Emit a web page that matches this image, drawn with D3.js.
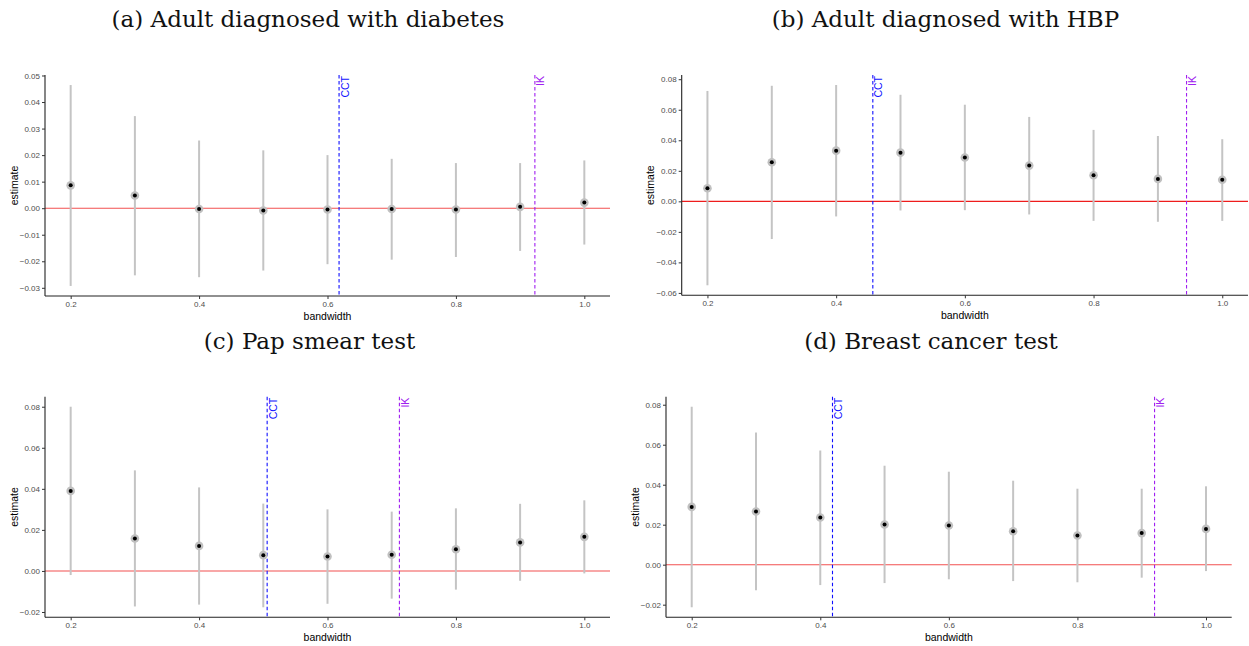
<!DOCTYPE html>
<html><head><meta charset="utf-8">
<script src="https://cdn.jsdelivr.net/npm/d3@7"></script>
<style>body{margin:0;background:#fff;} svg{display:block;}</style>
</head><body>
<svg id="c" width="1249" height="646"></svg>
<script>
// ---- data ----
const bandwidth = [0.2, 0.3, 0.4, 0.5, 0.6, 0.7, 0.8, 0.9, 1.0];

const titles = ["(a) Adult diagnosed with diabetes", "(b) Adult diagnosed with HBP", "(c) Pap smear test", "(d) Breast cancer test"];

const estA = [0.0086, 0.0048, -0.0003, -0.0009, -0.0005, -0.0003, -0.0005, 0.0005, 0.0021];
const loA  = [-0.0293, -0.0253, -0.0260, -0.0235, -0.0211, -0.0194, -0.0184, -0.0161, -0.0137];
const hiA  = [0.0464, 0.0347, 0.0255, 0.0218, 0.0200, 0.0186, 0.0170, 0.0170, 0.0180];

const estB = [0.0086, 0.0256, 0.0332, 0.0319, 0.0287, 0.0234, 0.0171, 0.0147, 0.0141];
const loB  = [-0.0550, -0.0247, -0.0099, -0.0060, -0.0058, -0.0086, -0.0128, -0.0134, -0.0128];
const hiB  = [0.0723, 0.0757, 0.0762, 0.0698, 0.0633, 0.0553, 0.0468, 0.0428, 0.0407];

const estC = [0.0390, 0.0158, 0.0122, 0.0077, 0.0070, 0.0079, 0.0106, 0.0139, 0.0166];
const loC  = [-0.0020, -0.0173, -0.0164, -0.0177, -0.0160, -0.0135, -0.0091, -0.0048, -0.0012];
const hiC  = [0.0800, 0.0490, 0.0407, 0.0328, 0.0300, 0.0289, 0.0305, 0.0327, 0.0344];

const estD = [0.0289, 0.0266, 0.0236, 0.0201, 0.0196, 0.0167, 0.0146, 0.0158, 0.0179];
const loD  = [-0.0213, -0.0128, -0.0102, -0.0092, -0.0073, -0.0082, -0.0088, -0.0065, -0.0032];
const hiD  = [0.0790, 0.0661, 0.0571, 0.0495, 0.0465, 0.0420, 0.0380, 0.0380, 0.0392];

const cctBW = [0.618, 0.457, 0.506, 0.419];
const ikBW  = [0.923, 0.9445, 0.712, 0.920];

const xTicks = [0.2, 0.4, 0.6, 0.8, 1.0];
const yTicksA = [-0.03, -0.02, -0.01, 0.00, 0.01, 0.02, 0.03, 0.04, 0.05];
const yTicksB = [-0.06, -0.04, -0.02, 0.00, 0.02, 0.04, 0.06, 0.08];
const yTicksC = [-0.02, 0.00, 0.02, 0.04, 0.06, 0.08];
const yTicksD = [-0.02, 0.00, 0.02, 0.04, 0.06, 0.08];

// ---- layout ----
const panels = [
  {est: estA, lo: loA, hi: hiA, yt: yTicksA, box: [45, 610, 75, 296], title: [308, 27], zero: "#f25050", ylab: 13.5},
  {est: estB, lo: loB, hi: hiB, yt: yTicksB, box: [681.7, 1248, 75, 295.3], title: [945.5, 27], zero: "#ee1c1c", ylab: 649.5},
  {est: estC, lo: loC, hi: hiC, yt: yTicksC, box: [45, 610, 396.7, 617.3], title: [309.5, 349], zero: "#f25050", ylab: 13.5},
  {est: estD, lo: loD, hi: hiD, yt: yTicksD, box: [666, 1231.7, 396.7, 617.3], title: [931, 349], zero: "#f25050", ylab: 635}
];

const svg = d3.select("#c");
const sans = "'Liberation Sans', Arial, sans-serif";

// title font size fitted to reference width of first title
const probe = svg.append("text").attr("font-family", "'DejaVu Serif', serif").attr("font-size", 20).text(titles[0]);
const w20 = probe.node().getComputedTextLength();
probe.remove();
const titleSize = 20 * 393 / w20;

panels.forEach((p, i) => {
  const [x0, x1, y0, y1] = p.box;
  const x = d3.scaleLinear().domain([0.16, 1.04]).range([x0, x1]);
  const lo = d3.min(p.lo), hi = d3.max(p.hi), pad = (hi - lo) * 0.05;
  const y = d3.scaleLinear().domain([lo - pad, hi + pad]).range([y1, y0]);
  const g = svg.append("g");

  // title
  svg.append("text").attr("x", p.title[0]).attr("y", p.title[1])
    .attr("text-anchor", "middle").attr("font-family", "'DejaVu Serif', serif")
    .attr("font-size", titleSize).attr("fill", "#111").text(titles[i]);

  // zero line
  g.append("line").attr("x1", x0).attr("x2", x1).attr("y1", y(0)).attr("y2", y(0))
    .attr("stroke", p.zero).attr("stroke-width", 1.1);

  // vertical reference lines
  [[cctBW[i], "CCT", "#1010ff"], [ikBW[i], "IK", "#a020f0"]].forEach(([v, lab, col]) => {
    g.append("line").attr("x1", x(v)).attr("x2", x(v)).attr("y1", y0).attr("y2", y1)
      .attr("stroke", col).attr("stroke-width", 1.1).attr("stroke-dasharray", "3.5,2.5");
    g.append("text").attr("transform", `translate(${x(v) + 9.5},${y0 + 1}) rotate(-90)`)
      .attr("text-anchor", "end").attr("font-family", sans).attr("font-size", 10.5)
      .attr("fill", col).text(lab);
  });

  // error bars
  g.selectAll(".eb").data(bandwidth).join("line")
    .attr("x1", d => x(d)).attr("x2", d => x(d))
    .attr("y1", (d, j) => y(p.lo[j])).attr("y2", (d, j) => y(p.hi[j]))
    .attr("stroke", "#c4c4c4").attr("stroke-width", 2);
  // points
  g.selectAll(".pt").data(bandwidth).join("circle")
    .attr("cx", d => x(d)).attr("cy", (d, j) => y(p.est[j])).attr("r", 4.3)
    .attr("fill", "#c0c0c0");
  g.selectAll(".pc").data(bandwidth).join("circle")
    .attr("cx", d => x(d)).attr("cy", (d, j) => y(p.est[j])).attr("r", 2)
    .attr("fill", "#000");

  // axes
  const ax = svg.append("g").attr("transform", `translate(0,${y1})`)
    .call(d3.axisBottom(x).tickValues(xTicks).tickFormat(d3.format(".1f")).tickSize(3).tickPadding(2));
  const ay = svg.append("g").attr("transform", `translate(${x0},0)`)
    .call(d3.axisLeft(y).tickValues(p.yt).tickFormat(d3.format(".2f")).tickSize(3).tickPadding(2));
  [ax, ay].forEach(a => {
    a.select(".domain").attr("stroke", "#222").attr("stroke-width", 1.1);
    a.selectAll(".tick line").attr("stroke", "#333");
    a.selectAll(".tick text").attr("fill", "#4d4d4d").attr("font-family", sans).attr("font-size", 8);
  });
  ax.select(".domain").attr("d", `M${x0},0H${x1}`);
  ay.select(".domain").attr("d", `M0,${y1}V${y0}`);

  // axis titles
  svg.append("text").attr("x", (x0 + x1) / 2).attr("y", y1 + 23.5)
    .attr("text-anchor", "middle").attr("font-family", sans).attr("font-size", 10.5)
    .attr("fill", "#000").text("bandwidth");
  svg.append("text").attr("transform", `translate(${p.ylab + 4},${(y0 + y1) / 2}) rotate(-90)`)
    .attr("text-anchor", "middle").attr("font-family", sans).attr("font-size", 10.5)
    .attr("fill", "#000").text("estimate");
});
</script>
</body></html>
